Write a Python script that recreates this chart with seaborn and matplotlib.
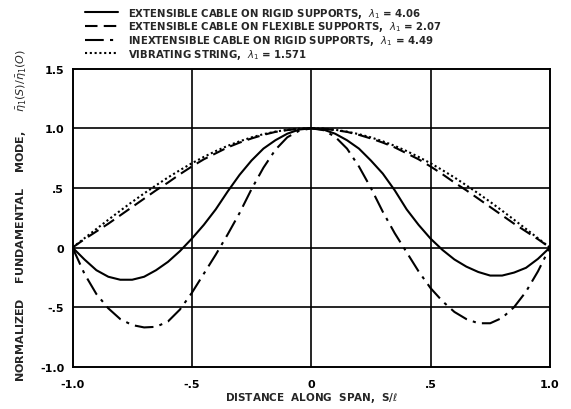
import numpy as np
import pandas as pd
import matplotlib
matplotlib.use("Agg")
import matplotlib.pyplot as plt
import seaborn as sns
from matplotlib.ticker import FixedLocator, FixedFormatter

# Distance along span, s/l
s = [-1.0, -0.95, -0.9, -0.85, -0.8, -0.75, -0.7, -0.65, -0.6, -0.55, -0.5,
     -0.45, -0.4, -0.35, -0.3, -0.25, -0.2, -0.15, -0.1, -0.05, 0.0,
     0.05, 0.1, 0.15, 0.2, 0.25, 0.3, 0.35, 0.4, 0.45, 0.5,
     0.55, 0.6, 0.65, 0.7, 0.75, 0.8, 0.85, 0.9, 0.95, 1.0]

# Extensible cable on rigid supports
ext_rigid = [0.0, -0.10, -0.19, -0.245, -0.27, -0.27, -0.245, -0.19, -0.12, -0.03, 0.075,
             0.19, 0.32, 0.47, 0.61, 0.73, 0.83, 0.90, 0.955, 0.99, 1.0,
             0.99, 0.955, 0.90, 0.83, 0.73, 0.62, 0.48, 0.32, 0.19, 0.075,
             -0.02, -0.10, -0.16, -0.205, -0.235, -0.235, -0.21, -0.17, -0.095, 0.0]

# Extensible cable on flexible supports
ext_flex = [0.0, 0.07, 0.135, 0.20, 0.27, 0.34, 0.41, 0.48, 0.545, 0.615, 0.68,
            0.74, 0.79, 0.84, 0.88, 0.915, 0.945, 0.97, 0.985, 0.996, 1.0,
            0.996, 0.985, 0.97, 0.945, 0.915, 0.88, 0.84, 0.79, 0.74, 0.68,
            0.615, 0.545, 0.48, 0.41, 0.34, 0.27, 0.20, 0.135, 0.07, 0.0]

# Inextensible cable on rigid supports
inext_rigid = [0.0, -0.22, -0.39, -0.51, -0.60, -0.65, -0.67, -0.665, -0.62, -0.52, -0.38,
               -0.22, -0.06, 0.11, 0.29, 0.49, 0.67, 0.82, 0.925, 0.98, 1.0,
               0.985, 0.93, 0.83, 0.68, 0.50, 0.30, 0.12, -0.04, -0.20, -0.34,
               -0.45, -0.54, -0.60, -0.635, -0.635, -0.59, -0.50, -0.37, -0.20, 0.0]

# Vibrating string
string = [0.0, 0.078, 0.156, 0.233, 0.309, 0.383, 0.454, 0.522, 0.588, 0.649, 0.707,
          0.760, 0.809, 0.853, 0.891, 0.924, 0.951, 0.972, 0.988, 0.997, 1.0,
          0.997, 0.988, 0.972, 0.951, 0.924, 0.891, 0.853, 0.809, 0.760, 0.707,
          0.649, 0.588, 0.522, 0.454, 0.383, 0.309, 0.233, 0.156, 0.078, 0.0]

labels = [r"EXTENSIBLE CABLE ON RIGID SUPPORTS,  $\lambda_1$ = 4.06",
          r"EXTENSIBLE CABLE ON FLEXIBLE SUPPORTS,  $\lambda_1$ = 2.07",
          r"INEXTENSIBLE CABLE ON RIGID SUPPORTS,  $\lambda_1$ = 4.49",
          r"VIBRATING STRING,  $\lambda_1$ = 1.571"]

xticks = [-1.0, -0.5, 0.0, 0.5, 1.0]
xticklabels = ["-1.0", "-.5", "0", ".5", "1.0"]
yticks = [-1.0, -0.5, 0.0, 0.5, 1.0, 1.5]
yticklabels = ["-1.0", "-.5", "0", ".5", "1.0", "1.5"]

sns.set_theme(style="white")
plt.rcParams['font.family'] = ['DejaVu Sans']
plt.rcParams['mathtext.fontset'] = 'dejavusans'

fig = plt.figure(figsize=(5.71, 4.10), dpi=100)
ax = fig.add_axes([0.127, 0.103, 0.836, 0.727])

series = [ext_rigid, ext_flex, inext_rigid, string]
dashes = [(None, None), (6, 3), (9, 3, 1.5, 3), (1, 1.3)]
handles = []
for vals, lab, d in zip(series, labels, dashes):
    df = pd.DataFrame({"s": s, "v": vals})
    sns.lineplot(data=df, x="s", y="v", ax=ax, color="black", lw=1.5,
                 estimator=None, sort=False)
    ln = ax.lines[-1]
    if d[0] is not None:
        ln.set_dashes(d)
    ln.set_label(lab)
    handles.append(ln)

ax.set_xlim(-1.0, 1.0)
ax.set_ylim(-1.0, 1.5)
ax.xaxis.set_major_locator(FixedLocator(xticks))
ax.xaxis.set_major_formatter(FixedFormatter(xticklabels))
ax.yaxis.set_major_locator(FixedLocator(yticks))
ax.yaxis.set_major_formatter(FixedFormatter(yticklabels))
ax.tick_params(axis="x", length=0, labelsize=8, pad=9, colors="black")
ax.tick_params(axis="y", length=0, labelsize=8, pad=6, colors="black")
for t in ax.get_xticklabels() + ax.get_yticklabels():
    t.set_fontweight("bold")

for v in [-0.5, 0.0, 0.5]:
    ax.axvline(v, color="black", lw=1.2, zorder=1)
for v in [-0.5, 0.0, 0.5, 1.0]:
    ax.axhline(v, color="black", lw=1.2, zorder=1)
for sp in ax.spines.values():
    sp.set_color("black")
    sp.set_linewidth(1.4)

ax.set_xlabel(r"DISTANCE  ALONG  SPAN,  S/$\ell$", fontsize=7.5,
              fontweight="bold")
ax.xaxis.set_label_coords(0.5, -0.1)
ax.xaxis.label.set_va("center")
ax.set_ylabel(r"NORMALIZED    FUNDAMENTAL    MODE,     $\bar{\eta}_1(S)/\bar{\eta}_1(O)$",
              fontsize=8, fontweight="bold")
ax.yaxis.set_label_coords(-0.105, 0.51)
ax.yaxis.label.set_va("center")

leg = ax.legend(handles=handles, labels=labels, loc="upper left",
                bbox_to_anchor=(0.137, 1.0), bbox_transform=fig.transFigure,
                frameon=False, fontsize=7.3, handlelength=3.3, handletextpad=1.0,
                labelspacing=-0.02, borderaxespad=0.25)
for t in leg.get_texts():
    t.set_fontweight("bold")

fig.savefig("out.png", dpi=100)
